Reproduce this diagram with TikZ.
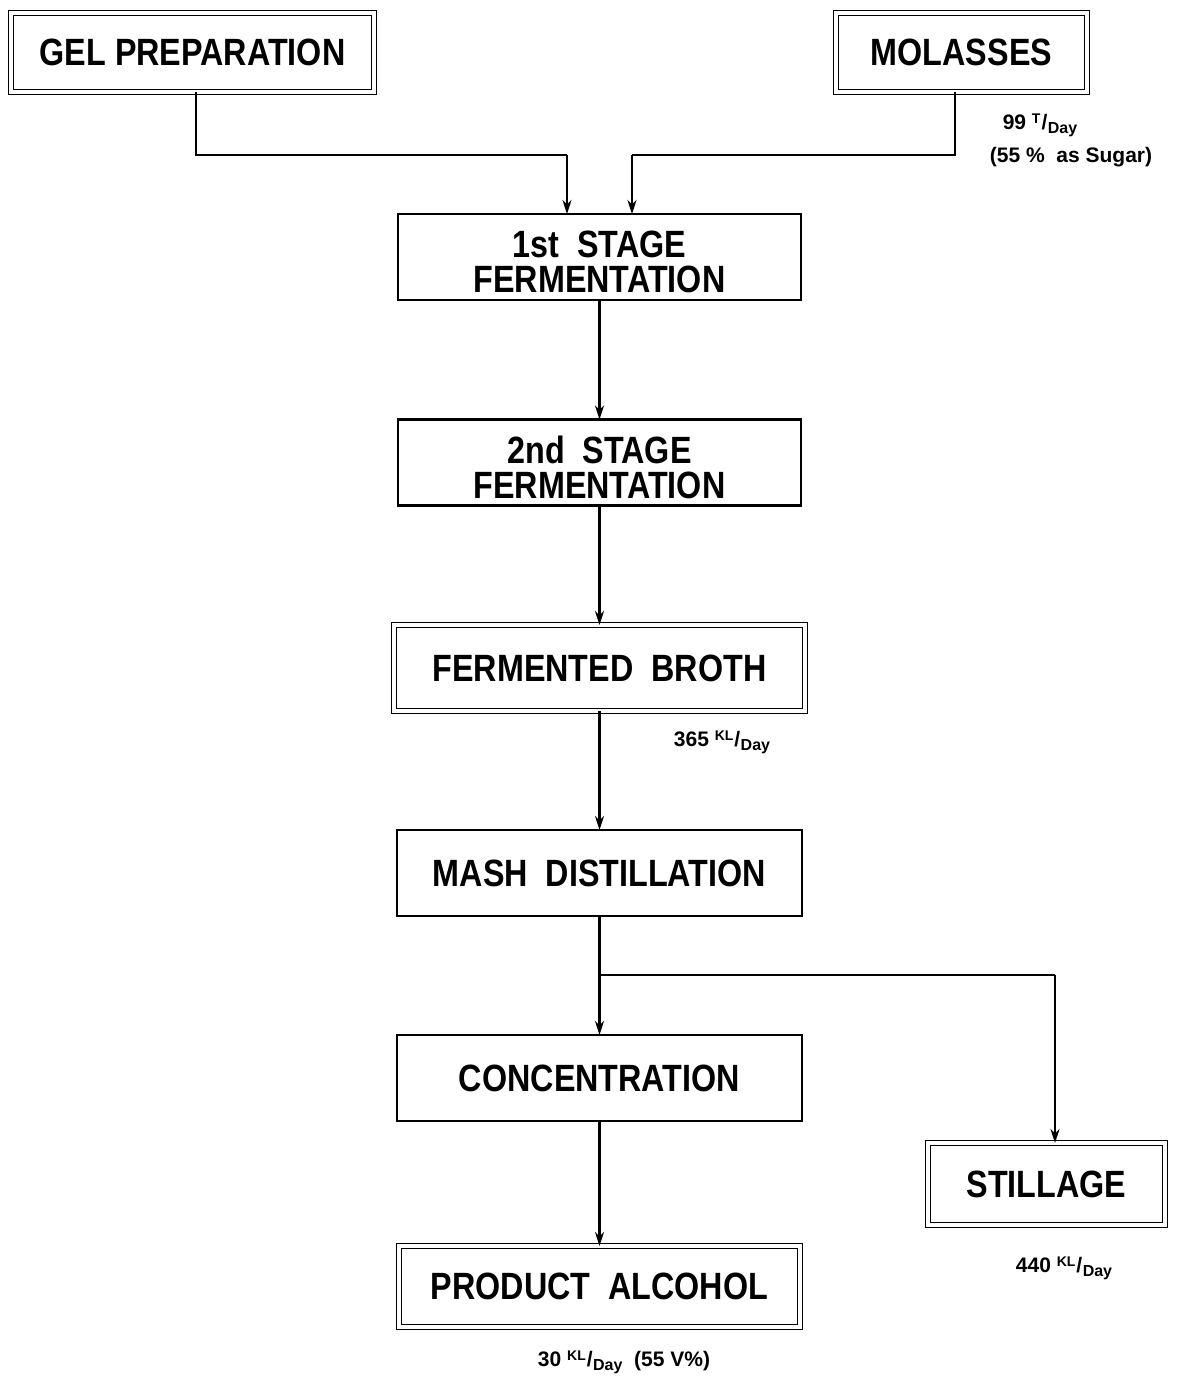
\documentclass[tikz,border=0pt]{standalone}
\usepackage{fontspec}
\usetikzlibrary{arrows.meta}
\newfontfamily\boxfont[FakeStretch=0.85]{Liberation Sans}
\newfontfamily\lblfont{Liberation Sans}
\newcommand{\perday}[1]{\raisebox{0.55ex}{\scriptsize #1}\kern0.05em/\kern0.02em\raisebox{-0.35ex}{\footnotesize Day}}
\newcommand{\toppad}{\rule{0pt}{18.5pt}}
\begin{document}
\begin{tikzpicture}[x=0.5pt,y=-0.5pt,
  every node/.style={inner sep=0pt, outer sep=0pt},
  procbox/.style={draw, line width=1.1pt, align=center,
    font=\boxfont\bfseries\fontsize{19}{17.5}\selectfont},
  dblbox/.style={procbox, double, double distance=1.6pt, line width=0.85pt},
  flow/.style={line width=1.4pt, -{Stealth[length=7pt,width=4.5pt]}},
  pipe/.style={line width=1.4pt},
  note/.style={font=\lblfont\bfseries\fontsize{10.5}{12}\selectfont, align=center}]
\useasboundingbox (0,0) rectangle (1189,1378);

% feed boxes
\node[dblbox, minimum width=181.5pt, minimum height=39.5pt] (gel) at (192.5,52.5) {GEL PREPARATION};
\node[dblbox, minimum width=125.5pt, minimum height=39.5pt] (mol) at (961.5,52.5) {MOLASSES};

% main process chain
\node[procbox, minimum width=201.5pt, minimum height=43pt] (s1) at (599.5,257) {\toppad 1st\ \ STAGE\\FERMENTATION};
\node[procbox, minimum width=201.5pt, minimum height=43pt] (s2) at (599.5,462.5) {\toppad 2nd\ \ STAGE\\FERMENTATION};
\node[dblbox, minimum width=205.5pt, minimum height=43pt] (broth) at (599.5,668) {FERMENTED\ \ BROTH};
\node[procbox, minimum width=202.5pt, minimum height=43pt] (mash) at (599.5,873) {MASH\ \ DISTILLATION};
\node[procbox, minimum width=202.5pt, minimum height=43pt] (conc) at (599.5,1078) {CONCENTRATION};
\node[dblbox, minimum width=200.5pt, minimum height=40.5pt] (prod) at (599.5,1286.5) {PRODUCT\ \ ALCOHOL};
\node[dblbox, minimum width=118.5pt, minimum height=41pt] (still) at (1046.5,1184) {STILLAGE};

% junction points
\coordinate (jg) at (567,155);
\coordinate (jm) at (632,155);
\coordinate (js) at (599.5,975);
\coordinate (st) at (1055,975);

% connectors
\draw[pipe] ([xshift=1.75pt]gel.south) |- (jg);
\draw[flow] (jg) -- (jg |- s1.north);
\draw[pipe] ([xshift=-3.25pt]mol.south) |- (jm);
\draw[flow] (jm) -- (jm |- s1.north);
\draw[flow] (s1.south) -- (s2.north);
\draw[flow] (s2.south) -- (broth.north);
\draw[flow] (broth.south) -- (mash.north);
\draw[flow] (mash.south) -- (conc.north);
\draw[pipe] (js) -- (st);
\draw[flow] (st) -- (st |- still.north);
\draw[flow] (conc.south) -- (prod.north);

% flow rates
\node[note] (n1) at (1040,125) {99 \perday{T}};
\node[note] (n2) at (1071,157) {(55 \%\ \ as Sugar)};
\node[note] (n3) at (722,742) {365 \perday{KL}};
\node[note] (n4) at (1064,1268) {440 \perday{KL}};
\node[note] (n5) at (624,1362) {30 \perday{KL}\ \ (55 V\%)};
\end{tikzpicture}
\end{document}
